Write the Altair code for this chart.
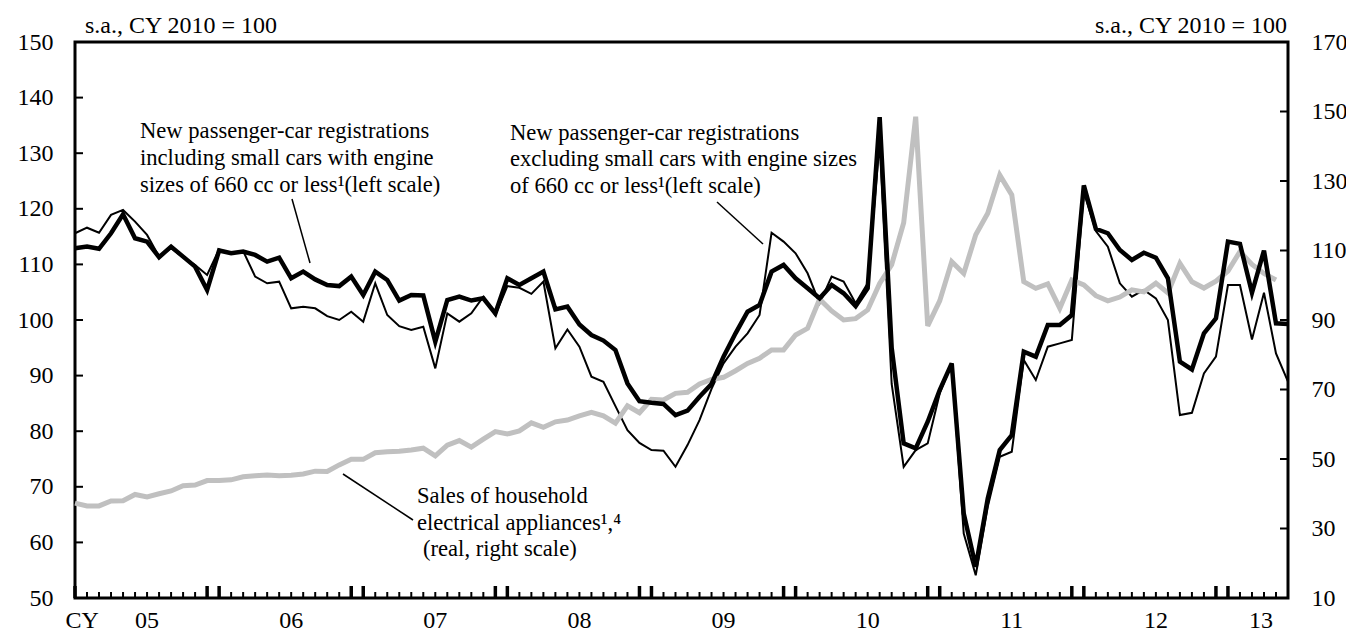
import altair as alt
import pandas as pd

# ---------------- data (monthly, Jan 2005 = index 0) ----------------
incl_small = [112.9, 113.2, 112.8, 115.6, 119.0, 114.7, 114.1, 111.3, 113.2, 111.4, 109.6, 105.4,
              112.5, 112.0, 112.3, 111.7, 110.5, 111.2, 107.5, 108.7, 107.3, 106.3, 106.1, 107.8,
              104.5, 108.7, 107.2, 103.5, 104.5, 104.4, 96.1, 103.6, 104.2, 103.5, 103.9, 101.2,
              107.5, 106.3, 107.5, 108.7, 101.9, 102.4, 99.2, 97.3, 96.3, 94.6, 88.6, 85.4,
              85.1, 84.9, 82.9, 83.7, 86.2, 88.5, 93.4, 97.6, 101.5, 102.7, 108.7, 109.9,
              107.5, 105.7, 103.9, 106.3, 104.8, 102.5, 105.7, 136.5, 95.0, 77.8, 76.9, 81.7,
              87.4, 92.2, 65.2, 55.6, 67.9, 76.6, 79.3, 94.3, 93.4, 99.1, 99.1, 100.9,
              124.2, 116.4, 115.6, 112.6, 110.8, 112.1, 111.2, 107.5, 92.5, 91.1, 97.6, 100.3,
              114.1, 113.7, 104.9, 112.5, 99.4, 99.3]

excl_small = [115.6, 116.6, 115.7, 118.9, 119.8, 117.7, 115.3, 111.4, 112.9, 111.3, 109.9, 108.1,
              112.7, 111.9, 112.4, 107.8, 106.6, 106.9, 102.1, 102.4, 102.1, 100.7, 100.0, 101.5,
              99.7, 106.6, 100.9, 98.9, 98.2, 98.8, 91.3, 101.2, 99.7, 101.2, 104.2, 100.9,
              106.1, 105.8, 104.7, 106.9, 94.9, 98.3, 95.2, 89.8, 88.9, 84.5, 80.2, 77.9,
              76.6, 76.5, 73.6, 77.5, 82.0, 87.6, 92.2, 95.2, 97.6, 100.9, 115.7, 114.1,
              112.0, 108.4, 103.0, 107.8, 106.9, 103.0, 106.6, 132.0, 88.5, 73.6, 76.6, 77.8,
              86.8, 92.2, 61.6, 54.1, 66.4, 75.4, 76.3, 92.8, 89.2, 95.2, 95.8, 96.4,
              123.0, 116.0, 113.2, 106.6, 104.2, 105.4, 103.9, 100.0, 82.9, 83.3, 90.4, 93.4,
              106.3, 106.3, 96.5, 104.9, 94.0, 88.9]

appliances = [37.3, 36.5, 36.5, 37.9, 38.0, 39.8, 39.1, 40.0, 40.8, 42.3, 42.5, 43.8,
              43.8, 44.0, 44.9, 45.2, 45.4, 45.2, 45.3, 45.7, 46.5, 46.4, 48.3, 49.9,
              49.9, 51.8, 52.1, 52.2, 52.6, 53.1, 50.9, 54.0, 55.3, 53.4, 55.7, 57.9,
              57.2, 58.1, 60.4, 59.1, 60.7, 61.2, 62.4, 63.4, 62.4, 60.3, 65.3, 63.3,
              67.2, 67.0, 68.9, 69.2, 71.6, 72.9, 73.5, 75.4, 77.5, 79.0, 81.4, 81.4,
              85.7, 87.6, 96.0, 92.6, 90.0, 90.4, 92.9, 100.5, 105.9, 118.0, 148.5, 88.3,
              95.5, 106.8, 103.4, 114.5, 120.7, 131.7, 126.0, 101.0, 99.1, 100.4, 93.4, 101.5,
              100.1, 97.0, 95.5, 96.6, 98.7, 98.1, 100.6, 97.8, 106.3, 101.0, 99.2, 101.2,
              104.1, 109.7, 106.0, 103.4, 101.5]

left_ticks = [50, 60, 70, 80, 90, 100, 110, 120, 130, 140, 150]
right_ticks = [10, 30, 50, 70, 90, 110, 130, 150, 170]
x_labels = ["CY", "05", "06", "07", "08", "09", "10", "11", "12", "13"]

unit_text = "s.a., CY 2010 = 100"
note_incl = ["New passenger-car registrations",
             "including small cars with engine",
             "sizes of 660 cc or less\u00b9(left scale)"]
note_excl = ["New passenger-car registrations",
             "excluding small cars with engine sizes",
             "of 660 cc or less\u00b9(left scale)"]
note_app = ["Sales of household",
            "electrical appliances\u00b9,\u2074"]
note_app_last = "(real, right scale)"

# ---------------- layout ----------------
W, H = 1213, 556
FONT = "Liberation Serif"
n_months = len(incl_small)

cars = pd.DataFrame({"m": list(range(n_months)), "incl": incl_small, "excl": excl_small})
app = pd.DataFrame({"m": list(range(len(appliances))), "v": appliances})
months = pd.DataFrame({"m": list(range(n_months))})
lab_pos = [0.6] + [12 * k + 6 for k in range(8)] + [(96 + n_months - 1) / 2 + 0.25]
xlab = pd.DataFrame({"pos": lab_pos, "label": x_labels})
one = pd.DataFrame({"k": [0]})

xscale = alt.Scale(domain=[0, n_months - 1], nice=False, zero=False)
lscale = alt.Scale(domain=[50, 150], nice=False, zero=False)
rscale = alt.Scale(domain=[10, 170], nice=False, zero=False)
xenc = alt.X("m:Q", scale=xscale, axis=None)

small_ticks = alt.Chart(months).mark_rule(color="black", strokeWidth=2).encode(
    x=xenc, y=alt.value(H), y2=alt.value(H - 6))
big_ticks = alt.Chart(months).transform_filter(
    "datum.m % 12 == 0 || datum.m % 12 == 11").mark_rule(color="black", strokeWidth=3.5).encode(
    x=xenc, y=alt.value(H), y2=alt.value(H - 12))

thin = alt.Chart(cars).mark_line(color="black", strokeWidth=2).encode(
    x=xenc,
    y=alt.Y("excl:Q", scale=lscale,
            axis=alt.Axis(orient="left", values=left_ticks, ticks=False, tickSize=0,
                          domain=False, grid=False, labelPadding=22, title=None)))
gray = alt.Chart(app).mark_line(color="#C0C0C0", strokeWidth=5).encode(
    x=xenc,
    y=alt.Y("v:Q", scale=rscale,
            axis=alt.Axis(orient="right", values=right_ticks, ticks=False, tickSize=0,
                          domain=False, grid=False, labelPadding=23, title=None)))
thick = alt.Chart(cars).mark_line(color="black", strokeWidth=4.5).encode(
    x=xenc, y=alt.Y("incl:Q", scale=lscale, axis=None))

lt = alt.Chart(pd.DataFrame({"v": left_ticks})).mark_rule(color="black", strokeWidth=2).encode(
    y=alt.Y("v:Q", scale=lscale, axis=None), x=alt.value(0), x2=alt.value(8))
rt = alt.Chart(pd.DataFrame({"v": right_ticks})).mark_rule(color="black", strokeWidth=2).encode(
    y=alt.Y("v:Q", scale=rscale, axis=None), x=alt.value(W - 8), x2=alt.value(W))

xlabels = alt.Chart(xlab).mark_text(font=FONT, fontSize=24, baseline="alphabetic",
                                    align="center", color="black").encode(
    x=alt.X("pos:Q", scale=xscale, axis=None), y=alt.value(H + 30), text="label:N")

def note(lines, x, y, size=22.6):
    return alt.Chart(one).mark_text(text=lines, font=FONT, fontSize=size, align="left",
                                    baseline="alphabetic", lineHeight=26.7,
                                    color="black").encode(x=alt.value(x), y=alt.value(y))

def leader(x1, y1, x2, y2):
    return alt.Chart(one).mark_rule(color="black", strokeWidth=1.5).encode(
        x=alt.value(x1), y=alt.value(y1), x2=alt.value(x2), y2=alt.value(y2))

unit_l = alt.Chart(one).mark_text(text=unit_text, font=FONT, fontSize=24, align="left",
                                  baseline="alphabetic", color="black").encode(
    x=alt.value(10), y=alt.value(-9))
unit_r = alt.Chart(one).mark_text(text=unit_text, font=FONT, fontSize=24, align="right",
                                  baseline="alphabetic", color="black").encode(
    x=alt.value(W - 1), y=alt.value(-9))

chart = alt.layer(
    small_ticks, big_ticks, thin, gray, thick, lt, rt, xlabels,
    note(note_incl, 65, 96.3), leader(217, 157, 235, 221),
    note(note_excl, 435, 97.5), leader(642, 160, 688, 202),
    note(note_app, 342, 461), note(note_app_last, 348, 514.4), leader(268, 432, 338, 478),
    unit_l, unit_r,
).resolve_scale(y="independent").properties(
    width=W, height=H,
    autosize=alt.AutoSizeParams(type="none"),
    padding={"left": 67, "top": 34, "right": 58, "bottom": 38},
    background="white",
).configure_view(stroke="black", strokeWidth=3).configure_axis(
    labelFont=FONT, labelFontSize=24, labelColor="black")

chart.save("out.html", embed_options={"renderer": "svg", "actions": False})
